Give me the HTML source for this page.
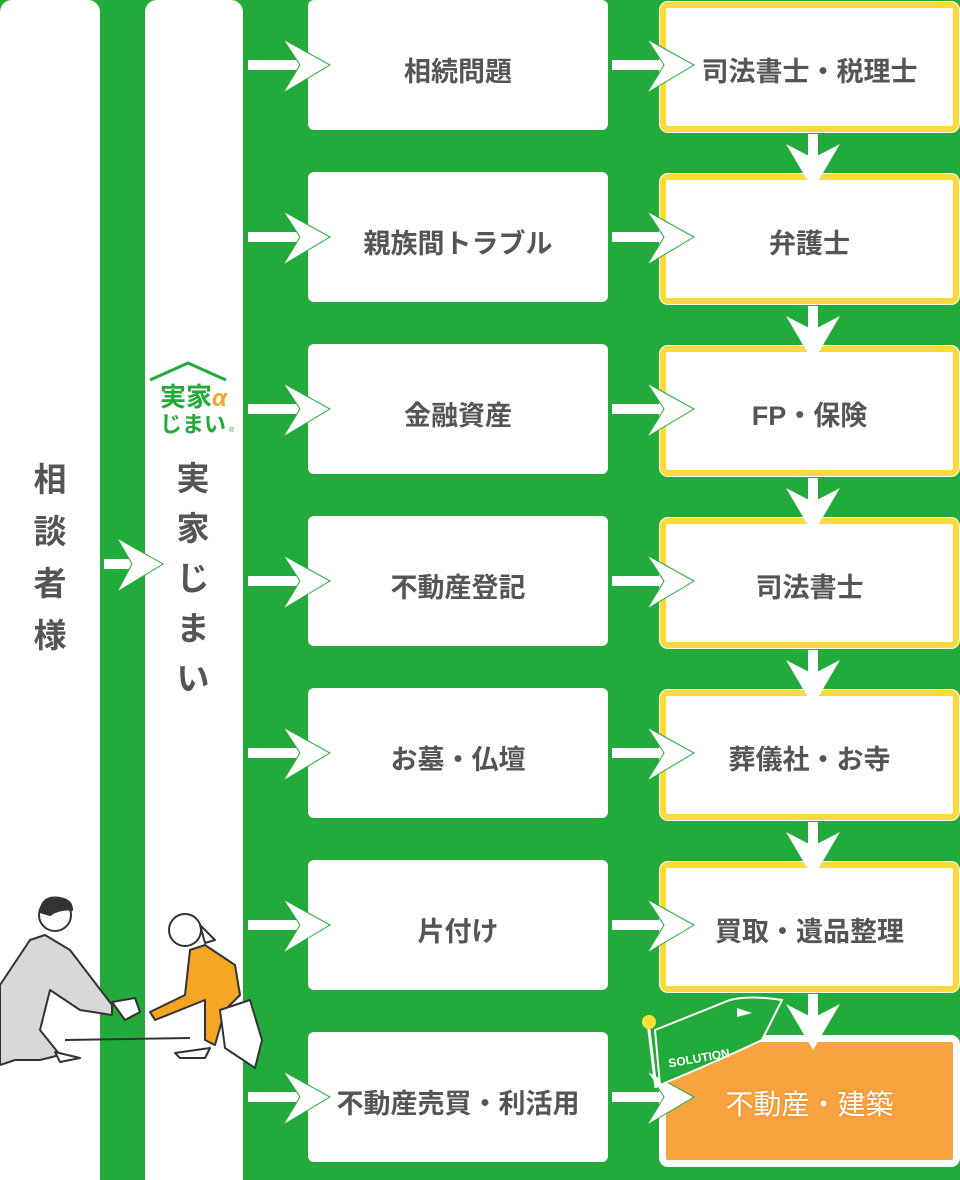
<!DOCTYPE html>
<html><head><meta charset="utf-8"><style>
*{margin:0;padding:0;box-sizing:border-box}
body{width:960px;height:1164px;background:#22ab3a;position:relative;overflow:hidden;font-family:"Liberation Sans","Noto Sans CJK JP",sans-serif}
.col{position:absolute;background:#fff;border-radius:12px 12px 0 0}
.box{position:absolute;left:308px;width:300px;height:130px;padding-top:8px;background:#fff;border-radius:6px;display:flex;align-items:center;justify-content:center;font-size:27px;font-weight:bold;color:#555}
.rb{position:absolute;left:660px;width:299px;height:130px;padding-top:4px;background:#fff;border:6px solid #fdda3c;border-radius:8px;display:flex;align-items:center;justify-content:center;font-size:27px;font-weight:bold;color:#555;box-shadow:0 0 0 1px #fff}
.v{position:absolute;font-size:33px;font-weight:bold;color:#555;text-align:center;width:50px;line-height:52px}
svg{position:absolute;left:0;top:0}
</style></head><body>
<div class="col" style="left:0;top:0;width:100px;height:1180px"></div>
<div class="col" style="left:145px;top:0;width:98px;height:1180px"></div>
<div class="v" style="left:25px;top:454px">相<br>談<br>者<br>様</div>
<div class="v" style="left:168px;top:454px;line-height:50px">実<br>家<br>じ<br>ま<br>い</div>

<div class="box" style="top:0">相続問題</div>
<div class="box" style="top:172px">親族間トラブル</div>
<div class="box" style="top:344px">金融資産</div>
<div class="box" style="top:516px">不動産登記</div>
<div class="box" style="top:688px">お墓・仏壇</div>
<div class="box" style="top:860px">片付け</div>
<div class="box" style="top:1032px">不動産売買・利活用</div>

<div class="rb" style="top:2px">司法書士・税理士</div>
<div class="rb" style="top:174px">弁護士</div>
<div class="rb" style="top:346px">FP・保険</div>
<div class="rb" style="top:518px">司法書士</div>
<div class="rb" style="top:690px">葬儀社・お寺</div>
<div class="rb" style="top:862px">買取・遺品整理</div>
<div class="rb" style="top:1036px;background:#f8a33f;border-color:#fff;color:#fff;font-weight:normal;font-size:28px;text-shadow:0 0 2px #e07a20">不動産・建築</div>

<svg width="960" height="1164" viewBox="0 0 960 1164">
<defs>
<g id="ar"><rect x="0" y="-5" width="56" height="10" fill="#fff"/><polygon points="35,-26 82,0 35,28 52,0" fill="#fff" stroke="#22ab3a" stroke-width="1"/></g>
<g id="da"><rect x="-5" y="0" width="10" height="24" fill="#fff"/><polygon points="-27,10 0,56 27,10 0,24" fill="#fff"/></g>
</defs>
<use href="#ar" x="248" y="65"/><use href="#ar" x="612" y="65"/>
<use href="#ar" x="248" y="237"/><use href="#ar" x="612" y="237"/>
<use href="#ar" x="248" y="409"/><use href="#ar" x="612" y="409"/>
<use href="#ar" x="248" y="581"/><use href="#ar" x="612" y="581"/>
<use href="#ar" x="248" y="753"/><use href="#ar" x="612" y="753"/>
<use href="#ar" x="248" y="925"/><use href="#ar" x="612" y="925"/>
<use href="#ar" x="248" y="1097"/><use href="#ar" x="612" y="1097"/>
<rect x="104" y="559" width="36" height="10" fill="#fff"/>
<polygon points="117,538 163,564 117,592 132,564" fill="#fff" stroke="#22ab3a" stroke-width="1"/>
<use href="#da" x="813" y="134"/><use href="#da" x="813" y="306"/><use href="#da" x="813" y="478"/>
<use href="#da" x="813" y="650"/><use href="#da" x="813" y="822"/><use href="#da" x="813" y="994"/>
<!-- logo -->
<polyline points="150,380 188,363 226,380" fill="none" stroke="#22ab3a" stroke-width="3"/>
<text x="160" y="406" font-size="26" font-weight="bold" fill="#22ab3a" font-family="Liberation Sans,Noto Sans CJK JP,sans-serif">実家</text>
<text x="212" y="406" font-size="24" font-style="italic" font-weight="bold" fill="#f5a623" font-family="Liberation Sans,sans-serif">α</text>
<text x="160" y="432" font-size="22" font-weight="bold" fill="#22ab3a" font-family="Liberation Sans,Noto Sans CJK JP,sans-serif">じまい</text>
<text x="229" y="432" font-size="7" fill="#22ab3a">®</text>
<!-- people -->
<g stroke="#333" stroke-width="2" stroke-linejoin="round">
<path d="M0,985 L30,940 L45,935 L70,950 L112,1005 L112,1015 L80,1010 L50,990 L40,1030 L60,1055 L40,1060 L15,1060 L0,1065 Z" fill="#d8d8d8"/>
<circle cx="55" cy="915" r="16" fill="#fff"/>
<path d="M40,912 Q42,895 60,898 Q72,900 72,910 Q60,908 50,915 Z" fill="#333"/>
<path d="M112,1002 L135,998 L140,1012 L125,1020 Z" fill="#fff"/>
<path d="M150,1012 L185,995 L190,950 L205,945 L235,965 L240,995 L225,1010 L215,1045 L205,1040 L205,1000 L155,1020 Z" fill="#f5a623"/>
<circle cx="185" cy="930" r="16" fill="#fff"/>
<path d="M200,925 L215,940 L205,943 Z" fill="#fff"/>
<path d="M220,1010 L250,1000 L262,1040 L255,1068 L225,1048 Z" fill="#fff"/>
<line x1="65" y1="1040" x2="190" y2="1038"/>
<path d="M175,1053 L210,1048 L205,1058 L180,1058 Z" fill="#fff"/>
<path d="M55,1052 L80,1058 L60,1062 Z" fill="#fff"/>
</g>
<!-- solution flag -->
<line x1="648" y1="1022" x2="656" y2="1088" stroke="#fff" stroke-width="3"/>
<circle cx="649" cy="1022" r="7" fill="#fde03a"/>
<path d="M655,1030 L730,1000 Q750,995 782,1000 L762,1040 Q720,1060 660,1085 Z" fill="#22ab3a" stroke="#fff" stroke-width="2"/>
<path d="M737,1008 L752,1013 L737,1017 Z" fill="#fff"/>
<text x="668" y="1062" font-size="12" font-weight="bold" fill="#fff" transform="rotate(-10 700 1058)" font-family="Liberation Sans,sans-serif">SOLUTION</text>
</svg>
</body></html>
